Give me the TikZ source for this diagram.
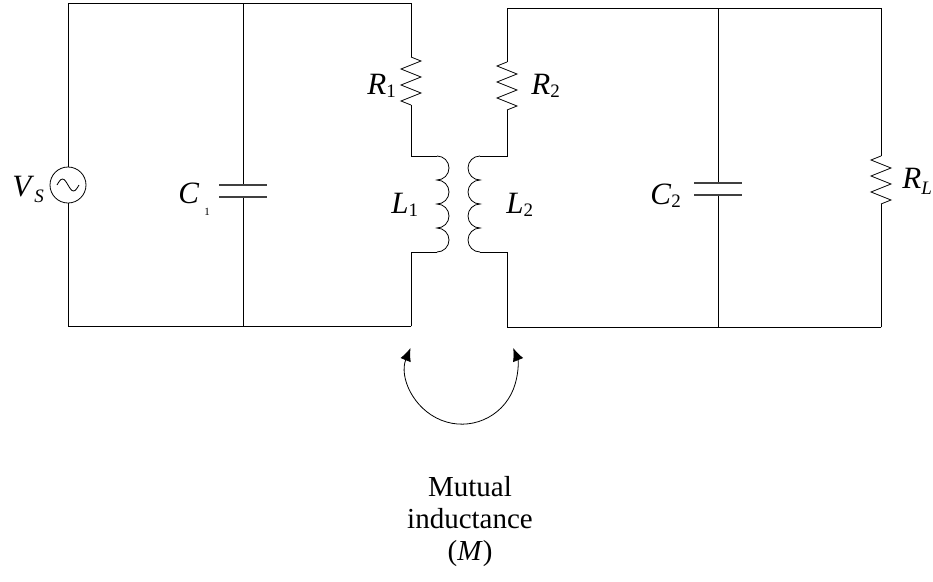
\documentclass[tikz,border=0pt]{standalone}
\usepackage{fontspec}
\setmainfont{Liberation Serif}
\usetikzlibrary{arrows.meta}
\newcommand{\lbl}[2]{\textit{#1}\raisebox{-0.12em}{\fontsize{19}{19}\selectfont #2}}
\begin{document}
\begin{tikzpicture}[x=1pt, y=-1pt, line width=0.8pt,
	wire/.style={draw, line cap=rect},
	plate/.style={line width=1.1pt, draw=black!75},
	lab/.style={font=\fontsize{31}{32}\selectfont, inner sep=0pt, anchor=base west},
	txt/.style={font=\fontsize{29}{32}\selectfont, align=center, inner sep=0pt}]
	\useasboundingbox (0,0) rectangle (933,581);
	% left loop
	\coordinate (ltl) at (68,3);
	\coordinate (ltm) at (243,3);
	\coordinate (ltr) at (411,3);
	\coordinate (lbl) at (68,326);
	\coordinate (lbm) at (243,326);
	\coordinate (lbr) at (411,326);
	\node[draw, circle, minimum size=36pt, inner sep=0pt] (vs) at (68,185) {};
	\draw ([xshift=-11pt]vs.center) sin ++(5.5,-6) cos ++(5.5,6) sin ++(5.5,6) cos ++(5.5,-6);
	\draw[wire] (ltl) -- (ltr);
	\draw[wire] (lbl) -- (lbr);
	\draw[wire] (ltl) -- (vs.north);
	\draw[wire] (vs.south) -- (lbl);
	% C1
	\coordinate (c1a) at (243,185);
	\coordinate (c1b) at (243,197);
	\draw[wire] (ltm) -- (c1a);
	\draw[wire] (c1b) -- (lbm);
	\draw[plate] ([xshift=-24pt]c1a) -- ([xshift=24pt]c1a);
	\draw[plate] ([xshift=-24pt]c1b) -- ([xshift=24pt]c1b);
	% R1 and L1
	\coordinate (r1a) at (411,57);
	\coordinate (r1b) at (411,105);
	\coordinate (l1a) at (437,156);
	\coordinate (l1b) at (437,252);
	\draw[wire] (ltr) -- (r1a);
	\draw (r1a) -- ++(10,4) -- ++(-20,8) -- ++(20,8) -- ++(-20,8) -- ++(20,8) -- ++(-20,8) -- (r1b);
	\draw[wire] (r1b) |- (l1a);
	\draw (l1a) arc[start angle=-90, end angle=90, radius=12]
		arc[start angle=-90, end angle=90, radius=12]
		arc[start angle=-90, end angle=90, radius=12]
		arc[start angle=-90, end angle=90, radius=12];
	\draw[wire] (l1b) -| (lbr);
	% right loop
	\coordinate (rtl) at (507,8);
	\coordinate (rtm) at (718,8);
	\coordinate (rtr) at (881,8);
	\coordinate (rbl) at (507,327);
	\coordinate (rbm) at (718,327);
	\coordinate (rbr) at (881,327);
	\draw[wire] (rtl) -- (rtr);
	\draw[wire] (rbl) -- (rbr);
	% R2 and L2
	\coordinate (r2a) at (507,62);
	\coordinate (r2b) at (507,110);
	\coordinate (l2a) at (480,156);
	\coordinate (l2b) at (480,252);
	\draw[wire] (rtl) -- (r2a);
	\draw (r2a) -- ++(-10,4) -- ++(20,8) -- ++(-20,8) -- ++(20,8) -- ++(-20,8) -- ++(20,8) -- (r2b);
	\draw[wire] (r2b) |- (l2a);
	\draw (l2a) arc[start angle=-90, end angle=-270, radius=12]
		arc[start angle=-90, end angle=-270, radius=12]
		arc[start angle=-90, end angle=-270, radius=12]
		arc[start angle=-90, end angle=-270, radius=12];
	\draw[wire] (l2b) -| (rbl);
	% C2
	\coordinate (c2a) at (718,183);
	\coordinate (c2b) at (718,195);
	\draw[wire] (rtm) -- (c2a);
	\draw[wire] (c2b) -- (rbm);
	\draw[plate] ([xshift=-24pt]c2a) -- ([xshift=24pt]c2a);
	\draw[plate] ([xshift=-24pt]c2b) -- ([xshift=24pt]c2b);
	% RL
	\coordinate (rla) at (881,156);
	\coordinate (rlb) at (881,204);
	\draw[wire] (rtr) -- (rla);
	\draw (rla) -- ++(-10,4) -- ++(20,8) -- ++(-20,8) -- ++(20,8) -- ++(-20,8) -- ++(20,8) -- (rlb);
	\draw[wire] (rlb) -- (rbr);
	% labels
	\node[lab] (vslab) at (12,196) {\textit{V}\raisebox{-0.22em}{\fontsize{19}{19}\selectfont\textit{S}}};
	\node[lab] (c1lab) at (178,203) {\textit{C}\hspace{5pt}\raisebox{-0.4em}{\fontsize{11}{11}\selectfont 1}};
	\node[lab] (r1lab) at (367,94) {\lbl{R}{1}};
	\node[lab] (r2lab) at (531,94) {\lbl{R}{2}};
	\node[lab] (l1lab) at (391,213) {\lbl{L}{1}};
	\node[lab] (l2lab) at (506,213) {\lbl{L}{2}};
	\node[lab] (c2lab) at (650,204) {\lbl{C}{2}};
	\node[lab] (rllab) at (902,188) {\textit{R}\raisebox{-0.22em}{\fontsize{19}{19}\selectfont\textit{L}}};
	% mutual inductance
	\coordinate (mtl) at (410.5,348);
	\draw[{Latex[length=13pt,width=11pt]}-{Latex[length=13pt,width=11pt]}] (mtl) arc[start angle=202, end angle=-22, radius=55.4];
	\node[txt] (mtext) at (470,522) {Mutual\\inductance\\(\textit{M})};
\end{tikzpicture}
\end{document}
